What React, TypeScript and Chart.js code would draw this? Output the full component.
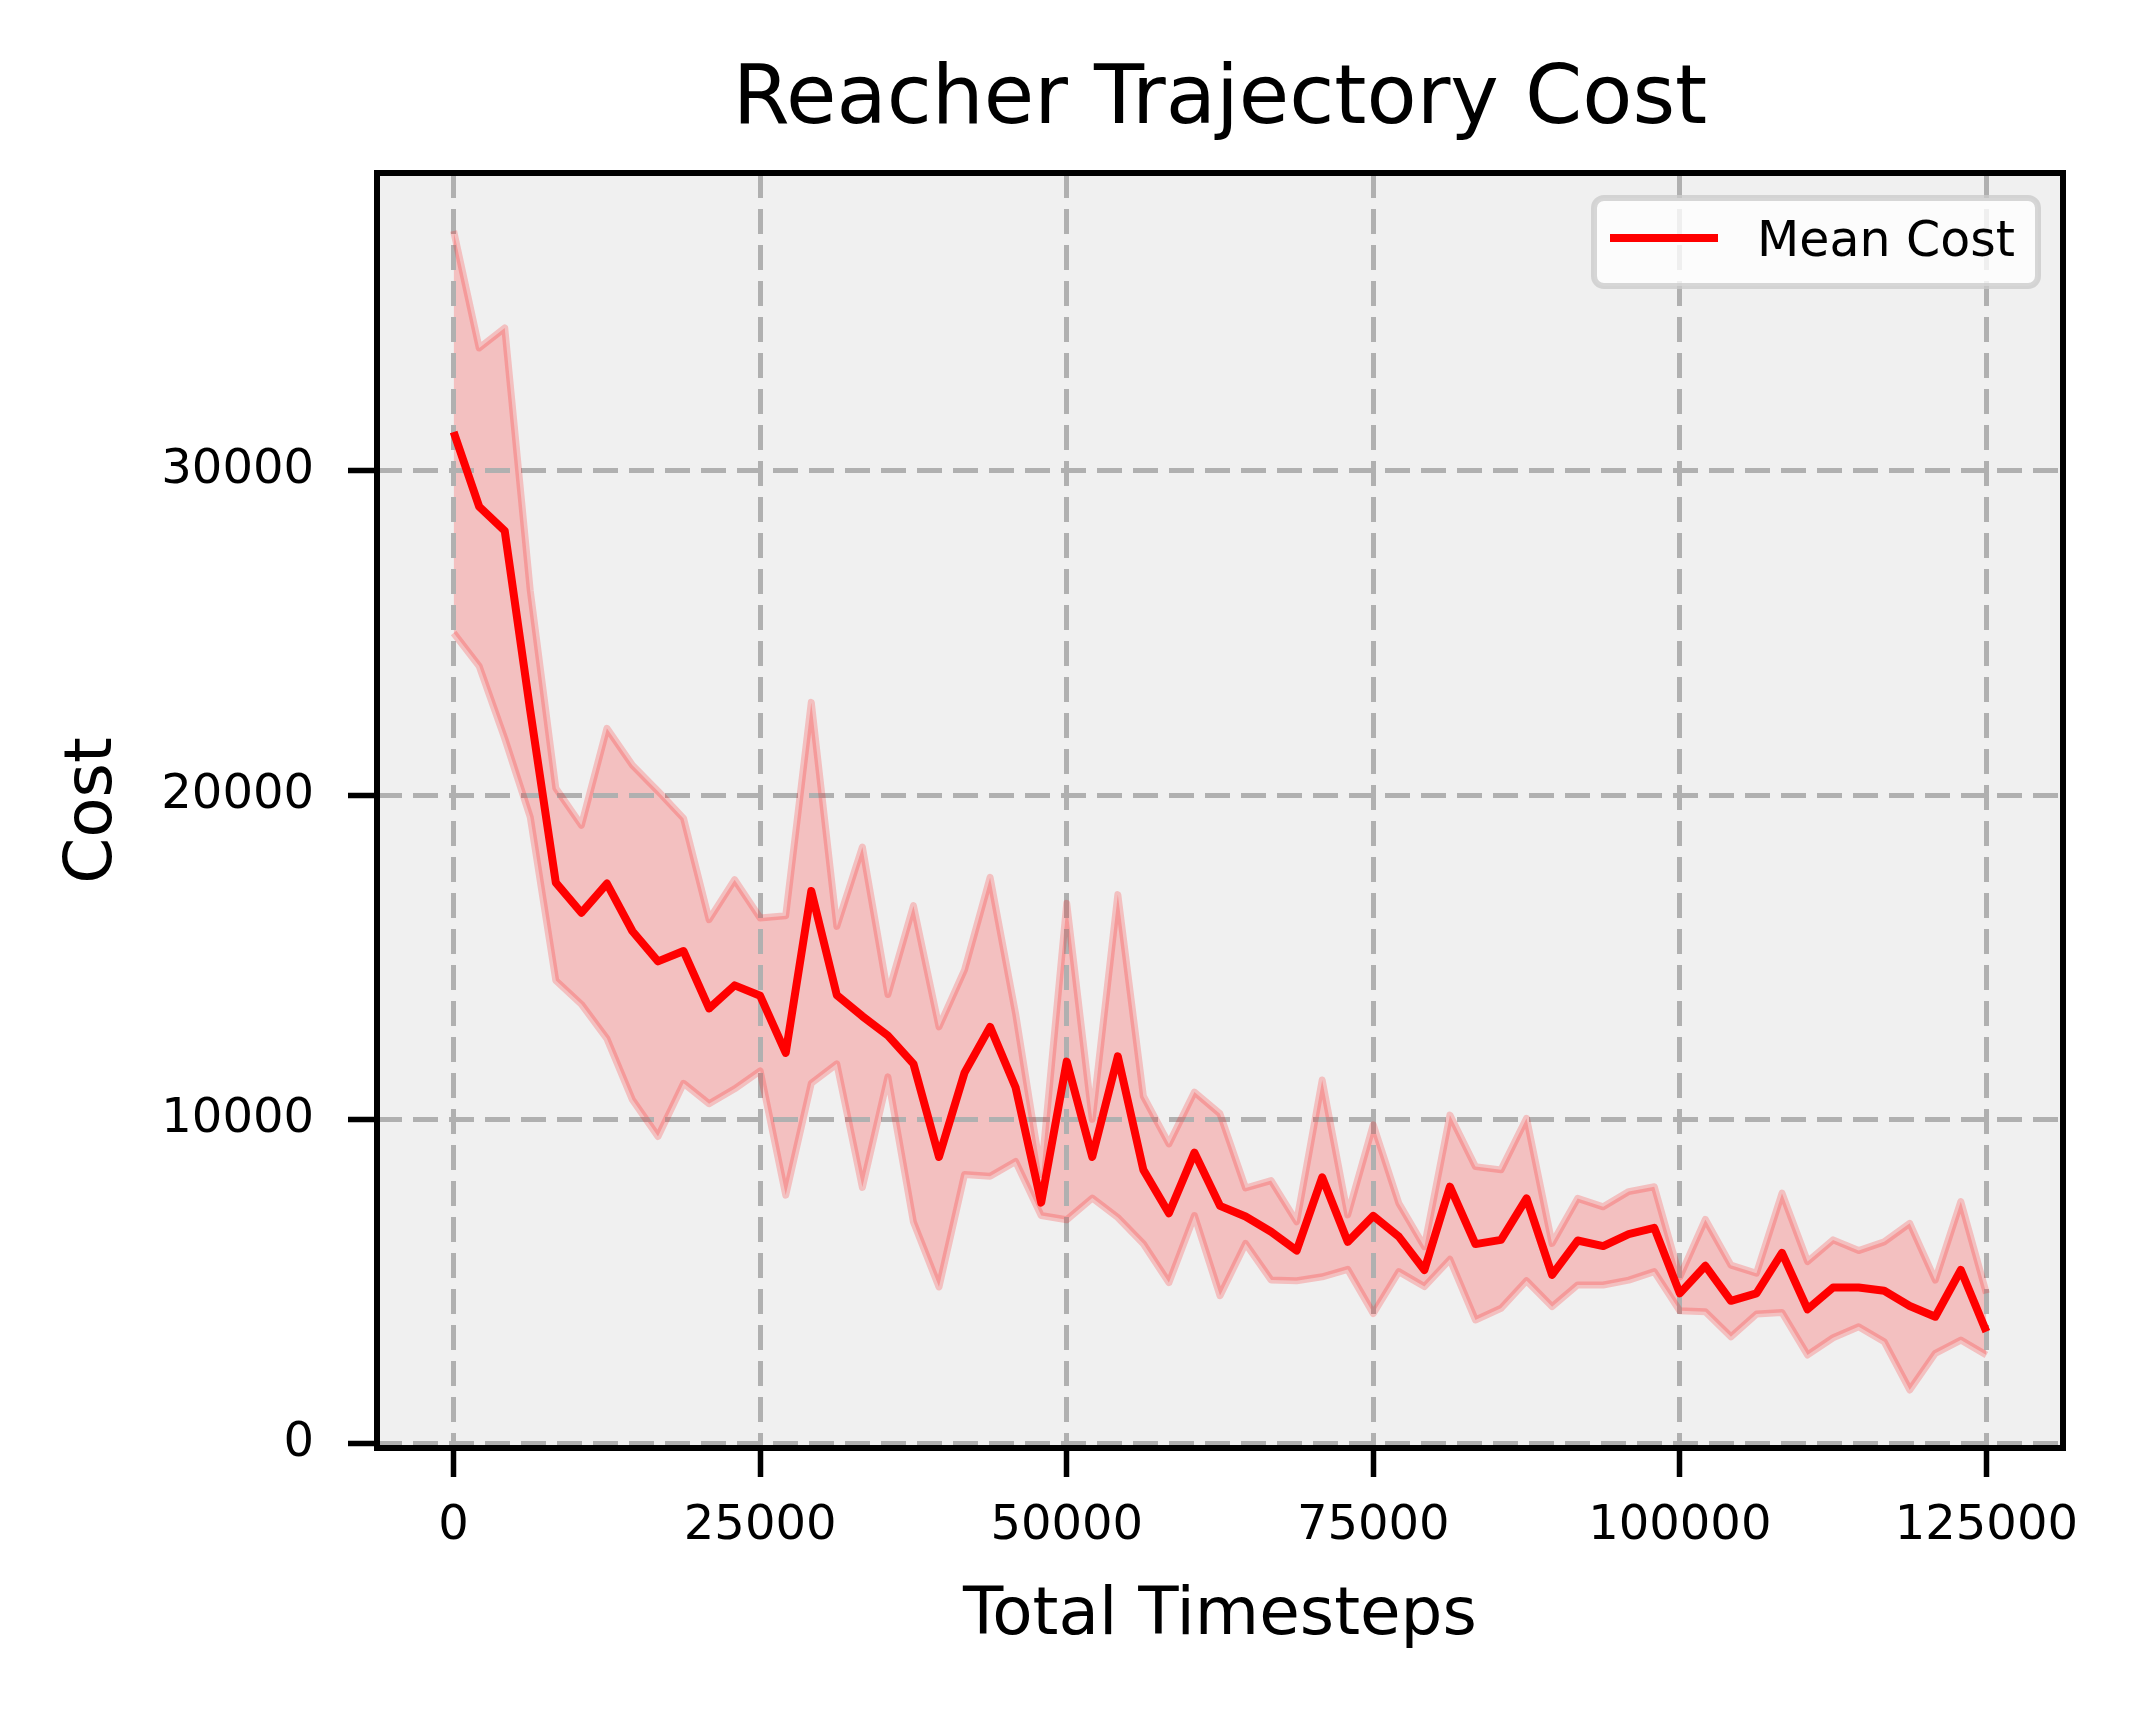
import { useEffect, useRef } from 'react';
import { Chart, registerables } from 'chart.js';

Chart.register(...registerables);

// Data
const timesteps = [
  0, 2083, 4167, 6250, 8333, 10417, 12500, 14583, 16667, 18750,
  20833, 22917, 25000, 27083, 29167, 31250, 33333, 35417, 37500, 39583,
  41667, 43750, 45833, 47917, 50000, 52083, 54167, 56250, 58333, 60417,
  62500, 64583, 66667, 68750, 70833, 72917, 75000, 77083, 79167, 81250,
  83333, 85417, 87500, 89583, 91667, 93750, 95833, 97917, 100000, 102083,
  104167, 106250, 108333, 110417, 112500, 114583, 116667, 118750, 120833, 122917,
  125000,
];

const meanCost = [
  31200, 28900, 28150, 22600, 17300, 16370, 17270, 15800, 14870, 15190,
  13420, 14130, 13810, 12050, 17040, 13830, 13180, 12580, 11710, 8840,
  11440, 12850, 10980, 7430, 11780, 8840, 11940, 8440, 7100, 8970,
  7330, 7000, 6530, 5950, 8210, 6220, 7020, 6380, 5350, 7920,
  6150, 6280, 7560, 5200, 6260, 6090, 6460, 6650, 4630, 5480,
  4400, 4630, 5880, 4140, 4810, 4810, 4710, 4240, 3910, 5350,
  3450,
];

const upperCost = [
  37400, 33790, 34410, 26300, 20210, 19070, 22060, 20920, 20120, 19280,
  16160, 17390, 16210, 16280, 22860, 15950, 18400, 13850, 16590, 12850,
  14610, 17460, 13250, 8300, 16660, 10000, 16930, 10710, 9240, 10840,
  10170, 7880, 8110, 6840, 11210, 7050, 9830, 7410, 6070, 10130,
  8540, 8440, 10030, 6170, 7560, 7300, 7770, 7920, 5140, 6910,
  5500, 5250, 7720, 5610, 6280, 5950, 6220, 6790, 5040, 7460,
  4630,
];

const lowerCost = [
  25000, 23980, 21750, 19320, 14280, 13550, 12490, 10600, 9470, 11110,
  10480, 10940, 11490, 7660, 11110, 11710, 7900, 11310, 6830, 4830,
  8300, 8240, 8700, 7030, 6900, 7570, 6970, 6160, 4960, 7030,
  4560, 6170, 5040, 5020, 5140, 5370, 4010, 5300, 4840, 5680,
  3810, 4170, 5020, 4220, 4890, 4890, 5040, 5300, 4090, 4060,
  3290, 3990, 4040, 2730, 3260, 3600, 3140, 1650, 2780, 3190,
  2730,
];

const xTicks = [0, 25000, 50000, 75000, 100000, 125000];
const yTicks = [0, 10000, 20000, 30000];

const TITLE = 'Reacher Trajectory Cost';
const LEGEND_LABEL = 'Mean Cost';
const FONT = '"DejaVu Sans", "Liberation Sans", sans-serif';

const W = 2141;
const H = 1714;
// plot box (left, top, right, bottom) — the canvas is transparent, a div paints the grey behind it
const AREA = { left: 377, top: 173, right: 2063, bottom: 1448 };

// title, legend box and the four spines
const decorations = {
  id: 'decorations',
  afterDraw(chart: any) {
    const { ctx, chartArea: a } = chart;
    ctx.save();

    ctx.fillStyle = '#000';
    ctx.font = `82px ${FONT}`;
    ctx.textAlign = 'center';
    ctx.textBaseline = 'alphabetic';
    ctx.fillText(TITLE, (a.left + a.right) / 2, 123);

    // legend
    ctx.beginPath();
    ctx.roundRect(1594, 198, 444, 88, 10);
    ctx.fillStyle = 'rgba(255,255,255,0.8)';
    ctx.fill();
    ctx.lineWidth = 6;
    ctx.strokeStyle = 'rgba(204,204,204,0.8)';
    ctx.stroke();

    ctx.beginPath();
    ctx.moveTo(1610, 238);
    ctx.lineTo(1718, 238);
    ctx.lineWidth = 8;
    ctx.strokeStyle = '#ff0000';
    ctx.stroke();

    ctx.fillStyle = '#000';
    ctx.font = `49px ${FONT}`;
    ctx.textAlign = 'left';
    ctx.fillText(LEGEND_LABEL, 1757, 256);

    // frame
    ctx.lineWidth = 6;
    ctx.strokeStyle = '#000';
    ctx.strokeRect(a.left, a.top, a.right - a.left, a.bottom - a.top);
    ctx.restore();
  },
};

const toPoints = (ys: number[]) => timesteps.map((x, i) => ({ x, y: ys[i] }));

export default function App() {
  const chartRef = useRef<HTMLCanvasElement>(null);

  useEffect(() => {
    document.body.style.margin = '0';
    if (!chartRef.current) return;

    const gridOpts = {
      color: '#b0b0b0',
      lineWidth: 5,
      tickLength: 29,
      tickColor: '#000',
      tickWidth: 5.5,
    };

    const chart = new Chart(chartRef.current, {
      type: 'line',
      data: {
        datasets: [
          {
            label: LEGEND_LABEL,
            data: toPoints(meanCost),
            borderColor: '#ff0000',
            borderWidth: 8,
            borderJoinStyle: 'round',
            pointRadius: 0,
            fill: false,
            order: 0,
          },
          {
            label: 'lower',
            data: toPoints(lowerCost),
            borderColor: 'rgba(255,0,0,0.2)',
            borderWidth: 7,
            borderJoinStyle: 'round',
            pointRadius: 0,
            fill: false,
            order: 2,
          },
          {
            // band between lower and upper (fill target must not be index 0 for drawTime beforeDraw)
            label: 'upper',
            data: toPoints(upperCost),
            borderColor: 'rgba(255,0,0,0.2)',
            backgroundColor: 'rgba(255,0,0,0.2)',
            borderWidth: 7,
            borderJoinStyle: 'round',
            pointRadius: 0,
            fill: '-1',
            order: 1,
          },
        ],
      },
      options: {
        animation: false,
        responsive: false,
        devicePixelRatio: 1,
        layout: { padding: { top: AREA.top, right: W - AREA.right, left: 0, bottom: 0 } },
        plugins: {
          legend: { display: false },
          title: { display: false },
          tooltip: { enabled: false },
          filler: { drawTime: 'beforeDraw', propagate: false },
        },
        scales: {
          x: {
            type: 'linear',
            min: -6250,
            max: 131250,
            afterBuildTicks: (s: any) => {
              s.ticks = xTicks.map((v) => ({ value: v }));
            },
            afterFit: (s: any) => {
              s.height = H - AREA.bottom;
            },
            grid: gridOpts,
            border: { display: false, dash: [25, 11] },
            ticks: {
              color: '#000',
              font: { family: FONT, size: 48 },
              padding: 21,
              autoSkip: false,
              maxRotation: 0,
              callback: (v: any) => String(v),
            },
            title: {
              display: true,
              text: 'Total Timesteps',
              color: '#000',
              font: { family: FONT, size: 66 },
              padding: { top: 0, bottom: 58 },
            },
          },
          y: {
            type: 'linear',
            min: -140,
            max: 39190,
            afterBuildTicks: (s: any) => {
              s.ticks = yTicks.map((v) => ({ value: v }));
            },
            afterFit: (s: any) => {
              s.width = AREA.left;
            },
            grid: gridOpts,
            border: { display: false, dash: [25, 11] },
            ticks: {
              color: '#000',
              font: { family: FONT, size: 48 },
              padding: 34,
              autoSkip: false,
              callback: (v: any) => String(v),
            },
            title: {
              display: true,
              text: 'Cost',
              color: '#000',
              font: { family: FONT, size: 66 },
              padding: { top: 54, bottom: 0 },
            },
          },
        },
      } as any,
      plugins: [decorations],
    });

    return () => {
      chart.destroy();
    };
  }, []);

  return (
    <div style={{ position: 'relative', width: W, height: H, background: '#fff' }}>
      <div
        style={{
          position: 'absolute',
          left: AREA.left,
          top: AREA.top,
          width: AREA.right - AREA.left,
          height: AREA.bottom - AREA.top,
          background: '#f0f0f0',
        }}
      />
      <canvas ref={chartRef} width={W} height={H} style={{ position: 'relative', display: 'block' }}></canvas>
    </div>
  );
}
